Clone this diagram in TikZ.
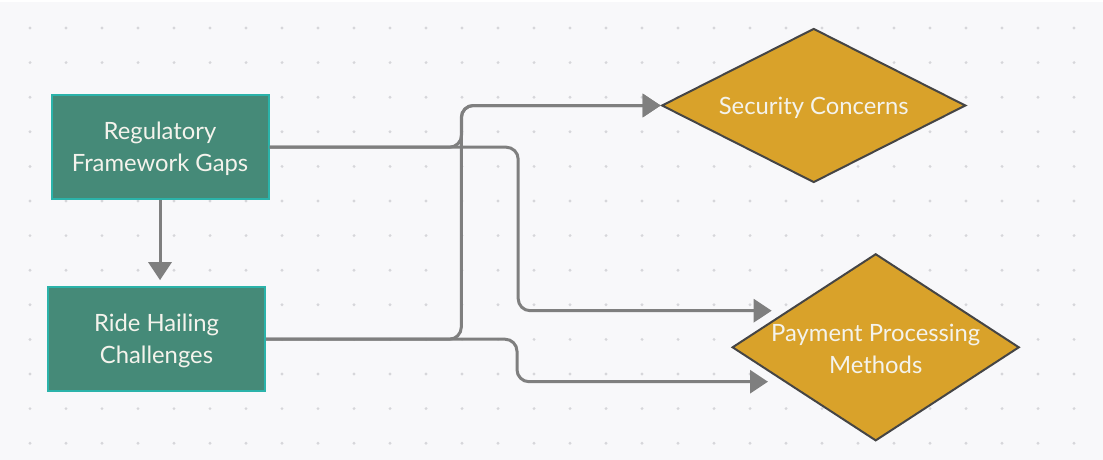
\documentclass[tikz,border=0pt]{standalone}
\usepackage{fontspec}
\setmainfont{Lato}
\usetikzlibrary{shapes.geometric,arrows.meta,calc}
\definecolor{bgc}{HTML}{F8F8FA}
\definecolor{dotc}{HTML}{D6D6DA}
\definecolor{tealf}{HTML}{458A78}
\definecolor{teald}{HTML}{2BB3AA}
\definecolor{goldf}{HTML}{D9A22A}
\definecolor{goldd}{HTML}{454545}
\definecolor{connc}{HTML}{7F7F7F}
\definecolor{txtc}{HTML}{F4F3EC}
\tikzset{
  box/.style={rectangle, fill=tealf, draw=teald, line width=2pt, minimum width=217pt, minimum height=104pt, inner sep=0pt},
  dia/.style={diamond, fill=goldf, draw=goldd, line width=2pt, inner sep=0pt},
  lbl/.style={text=txtc, align=center, font=\fontsize{23.8}{31.7}\selectfont, inner sep=0pt},
  conn/.style={draw=connc, line width=3pt, rounded corners=12pt, -{Triangle[length=18pt,width=23pt]}},
}
\begin{document}
\begin{tikzpicture}[x=1pt,y=-1pt]
\useasboundingbox (0,0) rectangle (1103,460);
\fill[bgc] (0,0) rectangle (1103,460);
\fill[white] (0,0) rectangle (1103,2.5);
\foreach \i in {0,...,29} {
  \foreach \j in {0,...,12} {
    \fill[dotc] (30+36*\i, 28+34.6*\j) circle (1.6);
  }
}
% nodes
\node[box] (reg) at (160,147.2) {};
\node[lbl] (regt) at ([yshift=-1.5pt]reg.center) {Regulatory\\Framework Gaps};
\node[box] (ride) at (156.5,339.2) {};
\node[lbl] (ridet) at ([yshift=-2pt]ride.center) {Ride Hailing\\Challenges};
\node[dia, minimum width=304pt, minimum height=154pt] (sec) at (813.7,105.5) {};
\node[lbl] (sect) at ([yshift=-2pt]sec.center) {Security Concerns};
\node[dia, minimum width=287pt, minimum height=187pt] (pay) at (875.7,347.3) {};
\node[lbl] (payt) at ([yshift=-1.5pt]pay.center) {Payment Processing\\Methods};
\coordinate (payin1) at (771.7,310.7);
\coordinate (payin2) at (768,381.7);
% connectors
\draw[conn] (reg.south) -- (reg.south |- ride.north) [shorten >=6pt];
\draw[conn] (reg.east) -- ++(192,0) |- (sec.west);
\draw[conn] (ride.east) -- ++(195.3,0) |- (sec.west);
\draw[conn] (reg.east) -- ++(248.7,0) |- (payin1);
\draw[conn] (ride.east) -- ++(251,0) |- (payin2);
\end{tikzpicture}
\end{document}
